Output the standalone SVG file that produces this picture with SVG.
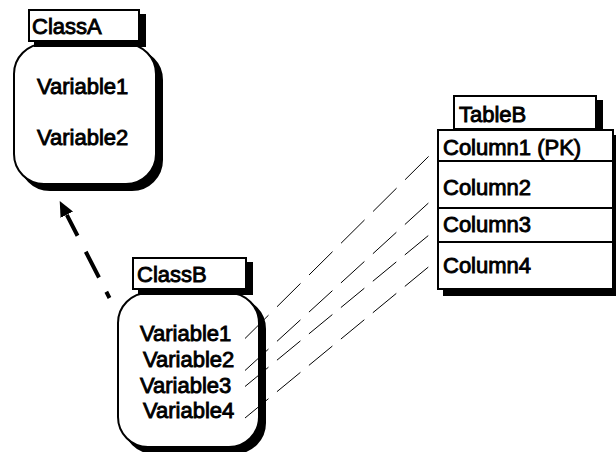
<svg xmlns="http://www.w3.org/2000/svg" width="616" height="452" viewBox="0 0 616 452">
<style>
  .bg { fill: #ffffff; }
  .box { fill: #ffffff; stroke: #000000; stroke-width: 2; }
  .shadow { fill: #000000; stroke: #000000; stroke-width: 2; }
  .rule { stroke: #000000; stroke-width: 2; fill: none; }
  text { font-family: "Liberation Sans", Arial, sans-serif; font-size: 22px; font-weight: normal; fill: #000000; stroke: #000000; stroke-width: 0.9; }
  .map { stroke: #000000; stroke-width: 1; fill: none; }
  .inherit { stroke: #000000; stroke-width: 4; fill: none; stroke-dasharray: 7 16 29 18 40; }
</style>
<defs>
  <marker id="arrowhead" markerUnits="userSpaceOnUse" markerWidth="16" markerHeight="14" viewBox="0 0 16 14" refX="0" refY="7" orient="auto">
    <path d="M0,0 L15.5,7 L0,14 z" fill="#000000"/>
  </marker>
</defs>
<rect class="bg" x="0" y="0" width="616" height="452"/>

<g id="ClassA">
  <rect class="shadow" x="20" y="50" width="142" height="140" rx="30" ry="30"/>
  <rect class="box" x="14" y="44" width="142" height="140" rx="30" ry="30"/>
  <rect class="shadow" x="35" y="15" width="110" height="31"/>
  <rect class="box" x="29" y="10" width="110" height="31"/>
  <text x="32" y="34">ClassA</text>
  <text x="37" y="94">Variable1</text>
  <text x="37" y="145">Variable2</text>
</g>

<g id="ClassB">
  <rect class="shadow" x="124" y="299" width="141" height="154" rx="30" ry="30"/>
  <rect class="box" x="118" y="293" width="141" height="154" rx="30" ry="30"/>
  <rect class="shadow" x="139" y="263" width="113" height="31"/>
  <rect class="box" x="133" y="258" width="113" height="31"/>
  <text x="137" y="282">ClassB</text>
  <text x="140" y="341">Variable1</text>
  <text x="143" y="366.5">Variable2</text>
  <text x="140" y="392.5">Variable3</text>
  <text x="143" y="418">Variable4</text>
</g>

<g id="TableB">
  <rect class="shadow" x="460" y="101" width="142" height="33"/>
  <rect class="box" x="454" y="96" width="142" height="33"/>
  <text x="459" y="122">TableB</text>
  <rect class="shadow" x="444" y="136" width="175" height="159"/>
  <rect class="box" x="438" y="130" width="175" height="159"/>
  <line class="rule" x1="438" y1="161" x2="613" y2="161"/>
  <line class="rule" x1="438" y1="208" x2="613" y2="208"/>
  <line class="rule" x1="438" y1="242" x2="613" y2="242"/>
  <text x="443" y="155">Column1 (PK)</text>
  <text x="443" y="195">Column2</text>
  <text x="443" y="232">Column3</text>
  <text x="443" y="273">Column4</text>
</g>

<g id="connectors">
  <path class="inherit" d="M109.5,298 L66.8,214.8" marker-end="url(#arrowhead)"/>
  <line class="map" x1="245" y1="338.5" x2="429" y2="156" stroke-dasharray="33.1 12"/>
  <line class="map" x1="245" y1="370.5" x2="429" y2="202.5" stroke-dasharray="31.8 11.5"/>
  <line class="map" x1="245" y1="386.5" x2="429" y2="235" stroke-dasharray="30.4 11"/>
  <line class="map" x1="245" y1="418" x2="429" y2="266.5" stroke-dasharray="30.4 11"/>
</g>
</svg>
